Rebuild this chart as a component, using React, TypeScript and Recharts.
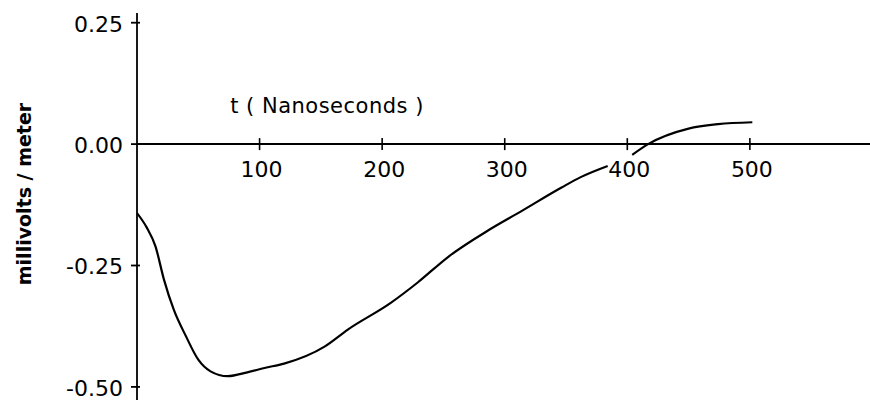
import React from 'react';
import {
  LineChart,
  Line,
  XAxis,
  YAxis,
  ReferenceLine,
  ReferenceDot
} from 'recharts';

// values
const times = [0, 8, 15, 22, 30, 40, 50, 60, 74, 90, 104, 120, 153, 172, 207, 229, 254, 287, 313, 346, 362, 384, 394, 404, 417, 450, 474, 502];
const field = [-0.142, -0.172, -0.21, -0.279, -0.341, -0.396, -0.444, -0.468, -0.478, -0.47, -0.461, -0.452, -0.417, -0.382, -0.327, -0.285, -0.232, -0.177, -0.139, -0.09, -0.068, -0.045, null, -0.022, 0.0, 0.032, 0.041, 0.045];
const xTicks = [100, 200, 300, 400, 500];
const yTicks = [-0.5, -0.25, 0, 0.25];
const yTickLabels = ['-0.50', '-0.25', '0.00', '0.25'];

const data = times.map((t, i) => ({ t, v: field[i] }));

const FONT = '"DejaVu Sans", sans-serif';

const YTick = (props: any) => {
  const { x, y, payload } = props;
  const axisX = x + 8;
  const idx = yTicks.indexOf(payload.value);
  return (
    <g>
      <line x1={axisX - 6} x2={axisX + 3} y1={y} y2={y} stroke="#000" strokeWidth={1.8} />
      <text x={axisX - 14} y={y + 9} textAnchor="end" fontFamily={FONT} fontSize={22} fill="#000">
        {idx >= 0 ? yTickLabels[idx] : payload.value}
      </text>
    </g>
  );
};

const XTick = (props: any) => {
  const { cx, cy, value } = props;
  return (
    <g>
      <line x1={cx} x2={cx} y1={cy - 6} y2={cy + 6} stroke="#000" strokeWidth={1.6} />
      <text x={cx + 2} y={cy + 33} textAnchor="middle" fontFamily={FONT} fontSize={22} fill="#000">
        {value}
      </text>
    </g>
  );
};

const App: React.FC = () => {
  return (
    <div>
      <style>{'body{margin:0;background:#fff}'}</style>
      <LineChart
        width={870}
        height={400}
        data={data}
        margin={{ top: 13, right: 0, left: 0, bottom: 0 }}
      >
        <XAxis type="number" dataKey="t" domain={[0, 598]} hide allowDataOverflow />
        <YAxis
          type="number"
          domain={[-0.527, 0.27]}
          ticks={yTicks}
          width={137}
          allowDataOverflow
          axisLine={{ stroke: '#000', strokeWidth: 1.8 }}
          tickLine={false}
          tickSize={6}
          tickMargin={2}
          tick={<YTick />}
          label={{
            content: () => (
              <text
                x={31}
                y={194}
                transform="rotate(-90, 31, 194)"
                textAnchor="middle"
                fontFamily={FONT}
                fontSize={19}
                fontWeight="bold"
                fill="#000"
              >
                millivolts / meter
              </text>
            )
          }}
        />
        <ReferenceLine y={0} stroke="#000" strokeWidth={2} />
        {xTicks.map((v) => (
          <ReferenceDot
            key={v}
            x={v}
            y={0}
            shape={(p: any) => <XTick {...p} value={v} />}
          />
        ))}
        <text x={327} y={113} textAnchor="middle" fontFamily={FONT} fontSize={21} letterSpacing={0.5} fill="#000">
          t ( Nanoseconds )
        </text>
        <Line
          type="monotone"
          dataKey="v"
          stroke="#000"
          strokeWidth={2.2}
          dot={false}
          connectNulls={false}
          isAnimationActive={false}
        />
      </LineChart>
    </div>
  );
};

export default App;
